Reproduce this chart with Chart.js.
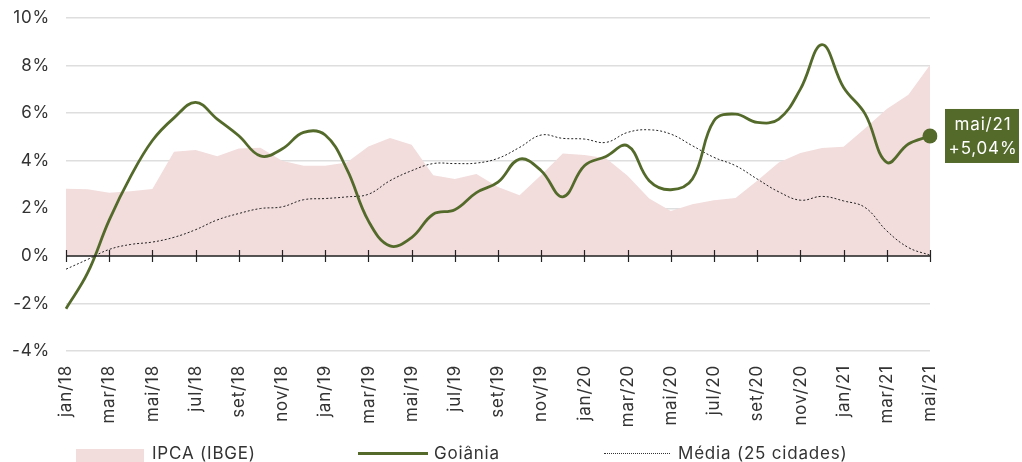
<!DOCTYPE html>
<html>
<head>
<meta charset="utf-8">
<script src="https://cdn.jsdelivr.net/npm/chart.js@4"></script>
<style>
  html, body { margin: 0; padding: 0; background: #fff; }
  #wrap { position: relative; width: 1022px; height: 462px; overflow: hidden; font-family: 'Inter', sans-serif; color: #333; }
  #chart { position: absolute; left: 0; top: 0; }
  .legend-item { position: absolute; top: 442px; font-size: 17px; letter-spacing: 0.8px; line-height: 22px; white-space: nowrap; }
  .sw { position: absolute; }
</style>
</head>
<body>
<div id="wrap">
  <canvas id="chart" width="1022" height="462"></canvas>
  <div id="legend"></div>
</div>
<script>
// meses de jan/18 a mai/21
const labels = [
  'jan/18','fev/18','mar/18','abr/18','mai/18','jun/18','jul/18','ago/18','set/18','out/18','nov/18','dez/18',
  'jan/19','fev/19','mar/19','abr/19','mai/19','jun/19','jul/19','ago/19','set/19','out/19','nov/19','dez/19',
  'jan/20','fev/20','mar/20','abr/20','mai/20','jun/20','jul/20','ago/20','set/20','out/20','nov/20','dez/20',
  'jan/21','fev/21','mar/21','abr/21','mai/21'
];

const ipca = [2.82, 2.80, 2.65, 2.72, 2.81, 4.38, 4.45, 4.19, 4.51, 4.55, 4.00, 3.79,
              3.79, 3.93, 4.60, 4.95, 4.67, 3.39, 3.23, 3.44, 2.90, 2.55, 3.40, 4.30,
              4.24, 4.10, 3.37, 2.41, 1.89, 2.17, 2.34, 2.43, 3.16, 3.93, 4.32, 4.53,
              4.59, 5.36, 6.17, 6.77, 8.02];

const goiania = [-2.22, -0.72, 1.50, 3.35, 4.85, 5.80, 6.45, 5.75, 5.05, 4.20, 4.49, 5.19,
                 5.08, 3.65, 1.47, 0.42, 0.77, 1.75, 1.94, 2.66, 3.10, 4.07, 3.58, 2.48,
                 3.79, 4.18, 4.63, 3.16, 2.78, 3.23, 5.68, 5.96, 5.61, 5.75, 7.01, 8.88,
                 7.08, 5.96, 3.93, 4.70, 5.04];

const media = [-0.56, -0.15, 0.27, 0.48, 0.58, 0.78, 1.10, 1.51, 1.78, 1.99, 2.06, 2.36,
               2.41, 2.48, 2.59, 3.16, 3.58, 3.88, 3.88, 3.90, 4.10, 4.56, 5.08, 4.94,
               4.91, 4.77, 5.19, 5.30, 5.12, 4.63, 4.14, 3.79, 3.23, 2.69, 2.34, 2.50,
               2.31, 2.03, 1.05, 0.35, 0.03];

const yTicks = [-4, -2, 0, 2, 4, 6, 8, 10];

const green = '#536a2b';
const pink = '#f2dcdc';
const fontFamily = "'Inter', sans-serif";

// espaçamento entre letras (fonte original é mais larga)
const spacing = {
  id: 'spacing',
  beforeLayout(chart) { chart.ctx.letterSpacing = '0.8px'; },
  beforeDraw(chart) { chart.ctx.letterSpacing = '0.8px'; }
};

// linha do zero com marcas a cada 2 meses
const zeroAxis = {
  id: 'zeroAxis',
  afterDatasetsDraw(chart) {
    const { ctx, chartArea, scales: { x, y } } = chart;
    const y0 = Math.round(y.getPixelForValue(0));
    ctx.save();
    ctx.strokeStyle = '#222';
    ctx.lineWidth = 1.5;
    ctx.beginPath();
    ctx.moveTo(chartArea.left, y0);
    ctx.lineTo(chartArea.right, y0);
    ctx.stroke();
    ctx.lineWidth = 1.2;
    for (let i = 0; i < labels.length; i += 2) {
      const px = Math.round(x.getPixelForValue(i)) + 0.5;
      ctx.beginPath();
      ctx.moveTo(px, y0 - 6);
      ctx.lineTo(px, y0 + 6);
      ctx.stroke();
    }
    ctx.restore();
  }
};

// caixa com o último valor de Goiânia
const lastLabel = {
  id: 'lastLabel',
  afterDraw(chart) {
    const { ctx } = chart;
    const meta = chart.getDatasetMeta(1);
    const pt = meta.data[meta.data.length - 1];
    const last = goiania[goiania.length - 1];
    const txt1 = labels[labels.length - 1];
    const txt2 = '+' + last.toFixed(2).replace('.', ',') + '%';
    ctx.save();
    ctx.fillStyle = green;
    ctx.fillRect(pt.x + 15, pt.y - 27, 74, 54);
    ctx.fillStyle = '#fff';
    ctx.font = '17px ' + fontFamily;
    ctx.textAlign = 'center';
    ctx.textBaseline = 'middle';
    ctx.fillText(txt1, pt.x + 53, pt.y - 11);
    ctx.fillText(txt2, pt.x + 53, pt.y + 13);
    ctx.restore();
  }
};

new Chart(document.getElementById('chart'), {
  type: 'line',
  data: {
    labels: labels,
    datasets: [
      {
        label: 'IPCA (IBGE)',
        data: ipca,
        borderWidth: 0,
        backgroundColor: pink,
        fill: 'origin',
        tension: 0,
        pointRadius: 0,
        order: 3
      },
      {
        label: 'Goiânia',
        data: goiania,
        borderColor: green,
        backgroundColor: green,
        borderWidth: 2.8,
        tension: 0.4,
        fill: false,
        pointRadius: goiania.map((v, i) => i === goiania.length - 1 ? 7.5 : 0),
        pointBackgroundColor: green,
        pointBorderWidth: 0,
        order: 1
      },
      {
        label: 'Média (25 cidades)',
        data: media,
        borderColor: '#222',
        borderWidth: 1,
        borderDash: [2, 2],
        tension: 0.4,
        fill: false,
        pointRadius: 0,
        order: 2
      }
    ]
  },
  options: {
    responsive: false,
    animation: false,
    layout: { padding: { top: 18, right: 92, bottom: 36, left: 0 } },
    plugins: {
      legend: { display: false },
      tooltip: { enabled: false }
    },
    scales: {
      x: {
        grid: { display: false },
        border: { display: false },
        ticks: {
          autoSkip: false,
          maxRotation: 90,
          minRotation: 90,
          padding: 6,
          color: '#333',
          font: { family: fontFamily, size: 17 },
          callback: function(value, index) {
            return index % 2 === 0 ? labels[index] : '';
          }
        },
        afterFit: function(scale) { scale.height = 75; }
      },
      y: {
        min: -4,
        max: 10,
        afterBuildTicks: function(scale) {
          scale.ticks = yTicks.map(v => ({ value: v }));
        },
        grid: { color: '#dedede', lineWidth: 1.5, drawTicks: false },
        border: { display: false },
        ticks: {
          padding: 16,
          color: '#333',
          font: { family: fontFamily, size: 17 },
          callback: function(value) { return value + '%'; }
        },
        afterFit: function(scale) {
          scale.width = 66;
          scale.paddingTop = 0;
          scale.paddingBottom = 0;
        }
      }
    }
  },
  plugins: [spacing, zeroAxis, lastLabel]
});

// legenda em HTML
const legendItems = [
  { text: 'IPCA (IBGE)', left: 76, sw: 'left:0;top:7px;width:68px;height:14px;background:' + pink, textLeft: 76 },
  { text: 'Goiânia', left: 358, sw: 'left:0;top:10px;width:70px;height:0;border-top:3px solid ' + green, textLeft: 76 },
  { text: 'Média (25 cidades)', left: 604, sw: 'left:0;top:11px;width:66px;height:0;border-top:1px dotted #333', textLeft: 74 }
];
const legend = document.getElementById('legend');
legendItems.forEach(it => {
  const d = document.createElement('div');
  d.className = 'legend-item';
  d.style.left = it.left + 'px';
  d.innerHTML = '<span class="sw" style="' + it.sw + '"></span><span style="margin-left:' + it.textLeft + 'px">' + it.text + '</span>';
  legend.appendChild(d);
});
</script>
</body>
</html>
